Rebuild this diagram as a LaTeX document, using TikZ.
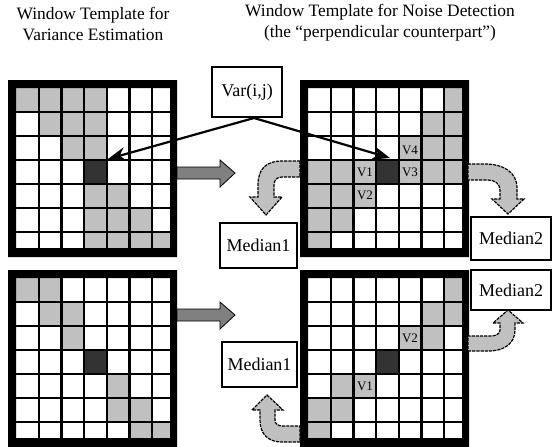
\documentclass[tikz,border=0pt]{standalone}
\usepackage{fontspec}
\setmainfont{Liberation Serif}
\usetikzlibrary{arrows.meta}
\definecolor{cellgray}{HTML}{C0C0C0}
\definecolor{darkcell}{HTML}{333333}
\definecolor{blockgray}{HTML}{808080}
\tikzset{
  gridline/.style={line width=1.1pt, draw=black},
  medbox/.style={draw, line width=0.6pt, fill=white, font=\fontsize{9}{10}\selectfont, inner sep=0pt},
  titletext/.style={align=center, font=\fontsize{8.7}{10.5}\selectfont},
  vlabel/.style={font=\fontsize{6.5}{7}\selectfont, inner sep=0pt},
  bendarrow/.style={fill=cellgray, draw=black, line width=0.6pt, dash pattern=on 1.6pt off 0.5pt},
  blockarrow/.style={fill=blockgray, draw=black, line width=0.4pt},
  varline/.style={line width=1.1pt, -{Stealth[length=9pt,width=7pt]}},
}
\newcommand{\windowgrid}[3]{%
  \fill[white] ({#1+8},{#2+8}) rectangle ({#1+162},{#2+168});
  \foreach \c/\r in {#3} {\fill[cellgray] ({#1+8+22.7*\c},{#2+8+24*\r}) rectangle ++(22.7,24);}
  \fill[darkcell] ({#1+8+22.7*3},{#2+8+24*3}) rectangle ++(22.7,24);
  \foreach \i in {1,...,6} {
    \draw[gridline] ({#1+8+22.7*\i},{#2+8}) -- ++(0,160);
    \draw[gridline] ({#1+8},{#2+8+24*\i}) -- ++(154,0);
  }
  \fill[black,even odd rule] ({#1},{#2}) rectangle ++(169,177) ({#1+8},{#2+8}) rectangle ({#1+162},{#2+168});
}
\begin{document}
\begin{tikzpicture}[x=0.5pt,y=-0.5pt]
\useasboundingbox[fill=white] (0,0) rectangle (552,446);

% titles
\node[titletext] (t1) at (93,24) {Window Template for\\Variance Estimation};
\node[titletext] (t2) at (380,23) {Window Template for Noise Detection\\(the ``perpendicular counterpart'')};

% grids
\windowgrid{8}{80}{0/0,1/0,2/0,3/0,1/1,2/1,3/1,2/2,3/2,3/4,4/4,3/5,4/5,5/5,3/6,4/6,5/6,6/6}
\windowgrid{300}{80}{6/0,5/1,6/1,4/2,5/2,6/2,0/3,1/3,2/3,4/3,5/3,6/3,0/4,1/4,2/4,0/5,1/5,0/6}
\windowgrid{8}{270}{0/0,1/0,1/1,2/1,2/2,4/4,4/5,5/5,5/6,6/6}
\windowgrid{300}{270}{6/0,5/1,6/1,4/2,5/2,1/4,2/4,0/5,1/5,0/6}

% cell labels
\node[vlabel] (v4a) at (410,150) {V4};
\node[vlabel] (v1a) at (365,172) {V1};
\node[vlabel] (v3a) at (410,172) {V3};
\node[vlabel] (v2a) at (365,195) {V2};
\node[vlabel] (v2b) at (410,338) {V2};
\node[vlabel] (v1b) at (365,386) {V1};

% straight block arrows
\draw[blockarrow] (177,167) -- (220,167) -- (220,160) -- (235,173) -- (220,187) -- (220,179) -- (177,179) -- cycle;
\draw[blockarrow] (177,309) -- (220,309) -- (220,302) -- (235,315) -- (220,329) -- (220,321) -- (177,321) -- cycle;

% bent arrows
\draw[bendarrow] (300,161) -- (282,161) .. controls (266,161) and (258,169) .. (258,185) -- (258,197) -- (250,197) -- (266,215) -- (282,197) -- (274,197) -- (274,185) .. controls (274,180) and (277,177) .. (282,177) -- (300,177) -- cycle;
\draw[bendarrow] (468,164) -- (485,164) .. controls (503,164) and (517,172) .. (517,188) -- (517,199) -- (524,199) -- (508,214) -- (492,199) -- (500,199) -- (500,190) .. controls (500,184) and (495,180) .. (488,180) -- (468,180) -- cycle;
\draw[bendarrow] (300,442) -- (282,442) .. controls (268,442) and (260,434) .. (260,420) -- (260,410) -- (252,410) -- (267,395) -- (283,410) -- (275,410) -- (275,420) .. controls (275,424) and (278,426) .. (283,426) -- (300,426) -- cycle;
\draw[bendarrow] (468,351) -- (488,351) .. controls (505,351) and (515,343) .. (515,330) -- (515,323) -- (523,323) -- (508,310) -- (493,323) -- (500,323) -- (500,330) .. controls (500,334) and (496,336) .. (490,336) -- (468,336) -- cycle;

% Var(i,j)
\node[medbox, minimum width=35pt, minimum height=25pt] (var) at (247,92) {Var(i,j)};
\coordinate (vtop) at (254,118);
\coordinate (hitL) at (108,159);
\coordinate (hitR) at (390,158);
\draw[varline] (vtop) -- (hitL);
\draw[varline] (vtop) -- (hitR);

% median boxes
\node[medbox, minimum width=38.5pt, minimum height=22.5pt] (med1a) at (258.5,245.5) {Median1};
\node[medbox, minimum width=40pt, minimum height=21.5pt] (med2a) at (511,238.5) {Median2};
\node[medbox, minimum width=37.5pt, minimum height=22.5pt] (med1b) at (259.5,364.5) {Median1};
\node[medbox, minimum width=40pt, minimum height=20pt] (med2b) at (511,290) {Median2};
\end{tikzpicture}
\end{document}
